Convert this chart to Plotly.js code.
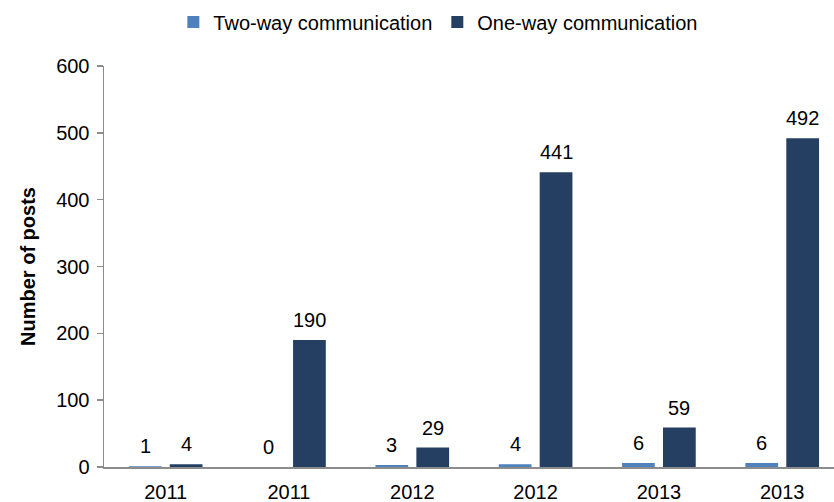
<!DOCTYPE html>
<html>
<head>
<meta charset="utf-8">
<script src="https://cdn.plot.ly/plotly-3.0.1.min.js"></script>
<style>html,body{margin:0;padding:0;background:#fff;}#chart{width:834px;height:502px;}</style>
</head>
<body>
<div id="chart"></div>
<script>
const yearLabels = ['2011', '2011', '2012', '2012', '2013', '2013'];
const twoWay = [1, 0, 3, 4, 6, 6];
const oneWay = [4, 190, 29, 441, 59, 492];
const seriesNames = ['Two-way communication', 'One-way communication'];
const yTicks = [0, 100, 200, 300, 400, 500, 600];

const FONT = 'Liberation Sans, Arial, sans-serif';
const positions = yearLabels.map((_, i) => i);
const bargap = 0.336;
const off = (1 - bargap) / 4;

const traces = [
  {type: 'bar', name: seriesNames[0], x: positions, y: twoWay, marker: {color: '#4f81bd'}, hoverinfo: 'y'},
  {type: 'bar', name: seriesNames[1], x: positions, y: oneWay, marker: {color: '#253f62'}, hoverinfo: 'y'}
];

const annotations = [];
[twoWay, oneWay].forEach((vals, s) => {
  vals.forEach((v, i) => {
    annotations.push({
      x: i + (s === 0 ? -off : off), y: v, xref: 'x', yref: 'y',
      text: String(v), showarrow: false, yanchor: 'bottom', yshift: 7,
      font: {family: FONT, size: 20, color: '#000'}
    });
  });
});

const layout = {
  width: 834, height: 502,
  margin: {l: 104, r: 0, t: 66, b: 35},
  paper_bgcolor: '#fff', plot_bgcolor: '#fff',
  font: {family: FONT, size: 20, color: '#000'},
  barmode: 'group', bargap: bargap, bargroupgap: 0.2,
  showlegend: true,
  legend: {orientation: 'h', x: 0.458, xanchor: 'center', y: 1.11, yanchor: 'middle',
           font: {family: FONT, size: 20, color: '#000'}, itemwidth: 30, traceorder: 'normal'},
  xaxis: {
    range: [-0.5, 5.42], tickmode: 'array', tickvals: positions, ticktext: yearLabels,
    showline: true, linecolor: '#8c8c8c', linewidth: 1.5, ticks: '', showgrid: false, zeroline: false,
    tickfont: {family: FONT, size: 20, color: '#000'}, ticklabelstandoff: 6, fixedrange: true
  },
  yaxis: {
    range: [0, 600], tickmode: 'array', tickvals: yTicks,
    showline: true, linecolor: '#8c8c8c', linewidth: 1.5, ticks: 'outside', ticklen: 6, tickcolor: '#8c8c8c', tickwidth: 1.5,
    showgrid: false, zeroline: false,
    tickfont: {family: FONT, size: 20, color: '#000'}, ticklabelstandoff: 3,
    title: {text: '<b>Number of posts</b>', font: {family: FONT, size: 20, color: '#000'}, standoff: 15},
    fixedrange: true
  },
  annotations: annotations
};

Plotly.newPlot('chart', traces, layout, {displayModeBar: false, staticPlot: true});
</script>
</body>
</html>
